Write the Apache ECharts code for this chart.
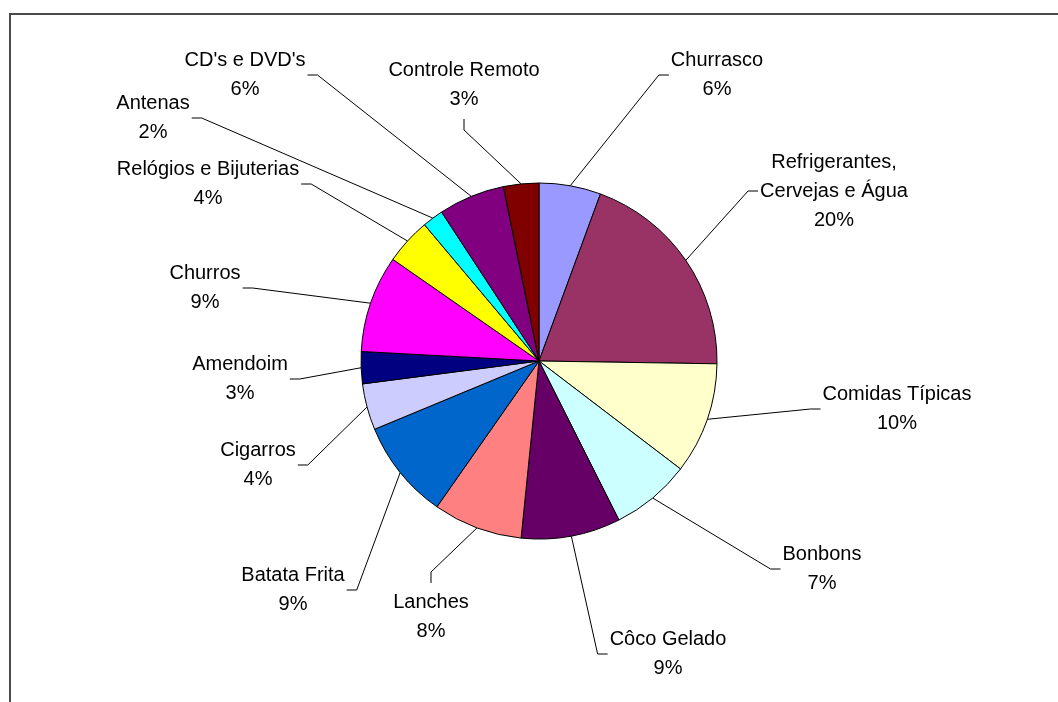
<!DOCTYPE html>
<html>
<head>
<meta charset="utf-8">
<script src="https://cdn.jsdelivr.net/npm/echarts@6/dist/echarts.min.js"></script>
<style>
  html, body { margin: 0; padding: 0; background: #fff; }
  #chart { width: 1058px; height: 702px; }
</style>
</head>
<body>
<div id="chart"></div>
<script>
// slices, clockwise from 12 o'clock
const categories = [
  'Churrasco', 'Refrigerantes, Cervejas e Água', 'Comidas Típicas', 'Bonbons',
  'Côco Gelado', 'Lanches', 'Batata Frita', 'Cigarros', 'Amendoim', 'Churros',
  'Relógios e Bijuterias', 'Antenas', "CD's e DVD's", 'Controle Remoto'
];
const shares = [5.6, 19.6, 10.1, 7.2, 9.0, 8.1, 9.0, 4.2, 2.9, 8.8, 4.2, 1.9, 6.0, 3.2];
const sliceColors = [
  '#9999FF', '#993366', '#FFFFCC', '#CCFFFF', '#660066', '#FF8080', '#0066CC',
  '#CCCCFF', '#000080', '#FF00FF', '#FFFF00', '#00FFFF', '#800080', '#800000'
];
// centre of each label block (px)
const labelCenters = [
  [717, 75], [834, 191], [897, 409], [822, 569], [668, 654], [431, 617], [293, 590],
  [258, 465], [240, 379], [205, 288], [208, 184], [153, 118], [245, 75], [464, 85]
];

const total = shares.reduce((a, b) => a + b, 0);
const pieCenter = [539, 361];
const pieRadius = 178;

const chart = echarts.init(document.getElementById('chart'));

// edge point at the middle of a slice (fallback if echarts gives none)
function edgePoint(i) {
  let before = 0;
  for (let k = 0; k < i; k++) before += shares[k];
  const a = (90 - (before + shares[i] / 2) / total * 360) * Math.PI / 180;
  return [pieCenter[0] + pieRadius * Math.cos(a), pieCenter[1] - pieRadius * Math.sin(a)];
}

const option = {
  animation: false,
  backgroundColor: '#fff',
  graphic: [{
    type: 'rect',
    silent: true,
    shape: { x: 10, y: 14, width: 1200, height: 900 },
    style: { fill: 'none', stroke: '#4a4a4a', lineWidth: 2 }
  }],
  series: [{
    type: 'pie',
    center: pieCenter,
    radius: pieRadius,
    startAngle: 90,
    clockwise: true,
    avoidLabelOverlap: false,
    emphasis: { disabled: true },
    data: categories.map((n, i) => ({ name: n, value: shares[i], itemStyle: { color: sliceColors[i] } })),
    itemStyle: { borderColor: '#000', borderWidth: 1 },
    label: {
      show: true,
      position: 'outside',
      color: '#000',
      fontFamily: '"Liberation Sans", Arial, sans-serif',
      fontSize: 20,
      lineHeight: 29,
      formatter: p => p.name.replace(', ', ',\n') + '\n' + Math.round(p.value / total * 100) + '%'
    },
    labelLine: { show: true, length: 10, length2: 10, lineStyle: { color: '#000', width: 1 } },
    labelLayout: function (params) {
      const i = params.dataIndex;
      const cx = labelCenters[i][0], cy = labelCenters[i][1];
      const hw = params.labelRect.width / 2, hh = params.labelRect.height / 2;
      const start = (params.labelLinePoints && params.labelLinePoints[0]) || edgePoint(i);
      const dx = start[0] - cx;
      let pts;
      if (Math.abs(dx) < hw + 20) {
        // leader comes in from above / below
        const s = start[1] < cy ? -1 : 1;
        const yEdge = cy + s * hh;
        pts = [start, [cx, yEdge + s * 16], [cx, yEdge + s * 5]];
      } else {
        const s = dx < 0 ? -1 : 1;
        const xEdge = cx + s * hw;
        pts = [start, [xEdge + s * 12, cy], [xEdge + s * 2, cy]];
      }
      return { x: cx, y: cy, align: 'center', verticalAlign: 'middle', labelLinePoints: pts };
    }
  }]
};

chart.setOption(option);
window.addEventListener('resize', () => chart.resize());
</script>
</body>
</html>
